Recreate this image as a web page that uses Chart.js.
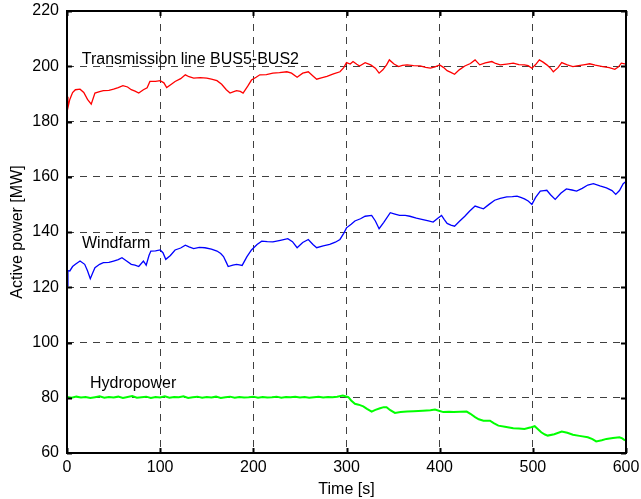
<!DOCTYPE html>
<html>
<head>
<meta charset="utf-8">
<title>Active power</title>
<script src="https://cdn.jsdelivr.net/npm/chart.js@4/dist/chart.umd.min.js"></script>
<style>
    html, body { margin: 0; padding: 0; background: #fff; }
</style>
</head>
<body>
<canvas id="powerChart" width="641" height="499"></canvas>
<script>
// Axis ticks
const timeTicks = [0, 100, 200, 300, 400, 500, 600];
const powerTicks = [60, 80, 100, 120, 140, 160, 180, 200, 220];

// Transmission line BUS5-BUS2 (red)
const lineTime = [0, 1, 3, 6, 9, 14, 18, 22, 26, 30, 35, 39, 45, 50, 55, 60, 65, 69, 73, 77,
    82, 86, 89, 95, 100, 104, 107, 112, 116, 122, 127, 131, 136, 143, 150, 155, 161, 166, 171, 175,
    179, 182, 186, 189, 194, 198, 203, 207, 214, 221, 228, 236, 241, 247, 253, 259, 264, 268, 273, 279,
    286, 293, 297, 300, 304, 307, 311, 314, 320, 326, 331, 335, 339, 343, 346, 351, 356, 360, 365, 372,
    379, 385, 390, 395, 400, 404, 408, 412, 416, 421, 427, 433, 438, 443, 449, 456, 460, 465, 472, 479,
    485, 491, 495, 499, 503, 507, 511, 515, 519, 522, 527, 531, 537, 543, 549, 556, 561, 567, 575, 582,
    588, 592, 595, 600];
const linePower = [189, 185, 188, 190.5, 191.5, 191.7, 190.5, 188, 186.3, 190.3, 190.8, 191.2, 191.3, 191.7, 192.3, 193, 192.5, 191.5, 191, 190.3,
    191.5, 192.2, 194.5, 194.5, 194.8, 194, 192.3, 193.5, 194.5, 195.5, 196.9, 196.2, 195.7, 195.9, 195.7, 195.3, 194.8, 193.5, 191.5, 190.3,
    190.8, 191.2, 190.9, 190.3, 192.8, 195, 196, 196.9, 197, 197.5, 197.7, 198, 197.5, 196, 197.5, 198, 196.5, 195.3, 195.8, 196.3,
    197.2, 198, 199.5, 201.3, 200.8, 201.7, 200.7, 200.1, 201.3, 200.5, 199.3, 197.5, 198.7, 200.5, 202.3, 200.8, 199.9, 200.3, 200.5, 200.2,
    200.1, 199.6, 199.3, 199.8, 200.5, 199.6, 198.4, 197.8, 197.1, 198.7, 200.1, 201, 202.3, 200.5, 201.2, 201.7, 201, 200.5, 200.8, 201.1,
    200.6, 200.5, 200.2, 199.3, 200.6, 202.3, 201.5, 200.5, 199.3, 198, 199.5, 201.3, 200.5, 199.9, 200.2, 200.6, 200.9, 200.4, 199.9, 199.5,
    198.9, 199.8, 201.1, 200.8];

// Windfarm (blue)
const windTime = [0, 1, 3, 6, 9, 14, 19, 22, 25, 28, 30, 35, 39, 45, 50, 55, 59, 64, 69, 73,
    77, 82, 85, 88, 90, 95, 100, 103, 106, 111, 116, 122, 127, 131, 136, 142, 148, 155, 161, 165,
    168, 171, 173, 178, 182, 185, 188, 193, 198, 204, 209, 215, 221, 229, 237, 242, 247, 253, 259, 264,
    268, 275, 282, 288, 293, 297, 300, 305, 309, 315, 320, 327, 331, 335, 340, 347, 352, 357, 363, 368,
    375, 382, 388, 393, 398, 402, 405, 408, 412, 416, 421, 427, 432, 438, 443, 447, 453, 459, 465, 472,
    478, 483, 487, 491, 495, 499, 503, 508, 512, 515, 519, 524, 530, 536, 542, 547, 553, 559, 565, 572,
    579, 585, 589, 593, 597, 600];
const windPower = [120.5, 126, 125.9, 127.5, 128.3, 129.5, 128.3, 126, 123.1, 125.5, 127.1, 128.3, 128.9, 129, 129.5, 130, 130.7, 129.5, 128.3, 128,
    127.5, 129.5, 128, 131.5, 133.1, 133.2, 133.5, 132.5, 130.1, 131.5, 133.5, 134.2, 135.2, 134.6, 134, 134.4, 134.3, 133.8, 133.1, 132.2,
    131.1, 129, 127.5, 128, 128.3, 128.1, 127.9, 131, 133.5, 135.5, 136.7, 136.5, 136.4, 137, 137.6, 136.5, 134.3, 136.2, 137.3, 135.5,
    134.3, 135, 135.5, 136.3, 137.3, 139.5, 141.5, 142.8, 144, 144.8, 145.7, 146, 144, 141.2, 143.5, 147, 146.5, 146, 146, 145.7,
    145, 144.5, 144, 143.6, 145, 146, 144.5, 143.1, 142.5, 142.1, 143.8, 145.7, 147.5, 149.4, 148.8, 148.4, 150, 151.5, 152.2, 152.7,
    152.8, 153, 152.5, 152, 151.2, 150, 152.5, 154.8, 155, 155.1, 153.5, 151.8, 154, 155.6, 155.2, 154.8, 155.8, 157, 157.5, 156.7,
    156, 155, 153.6, 155, 157.5, 158.3];

// Hydropower (green)
const hydroTime = [0, 5, 10, 15, 20, 25, 30, 35, 40, 45, 50, 55, 60, 65, 70, 75, 80, 85, 90, 95,
    100, 105, 110, 115, 120, 125, 130, 135, 140, 145, 150, 155, 160, 165, 170, 175, 180, 185, 190, 195,
    200, 205, 210, 215, 220, 225, 230, 235, 240, 245, 250, 255, 260, 265, 270, 275, 280, 285, 290, 296,
    302, 305, 309, 313, 318, 322, 327, 331, 336, 340, 343, 347, 352, 358, 365, 372, 382, 390, 395, 400,
    404, 410, 415, 422, 429, 433, 438, 442, 447, 454, 458, 463, 470, 479, 485, 491, 497, 502, 505, 509,
    513, 516, 523, 531, 537, 543, 550, 559, 564, 568, 574, 579, 586, 593, 596, 599];
const hydroPower = [80.3, 80.0, 80.4, 80.1, 80.3, 79.9, 80.2, 80.5, 80.0, 80.3, 80.1, 80.4, 79.9, 80.3, 80.6, 80.0, 80.2, 80.4, 79.9, 80.3,
    80.1, 80.5, 80.0, 80.3, 80.2, 80.5, 79.9, 80.2, 80.4, 80.0, 80.3, 80.1, 80.4, 79.9, 80.2, 80.4, 80.0, 80.3, 80.1, 80.2,
    80.4, 80.0, 80.3, 80.1, 80.2, 80.4, 80.0, 80.3, 80.2, 80.4, 80.1, 80.3, 80.0, 80.2, 80.4, 80.1, 80.3, 80.2, 80.4, 80.8,
    80.2, 79, 77.8, 77.5, 76.9, 76, 75, 75.6, 76.2, 76.6, 76.6, 75.5, 74.5, 74.8, 75, 75.1, 75.3, 75.5, 75.7, 75.2,
    74.8, 74.9, 74.8, 74.9, 75, 74.2, 73, 72.2, 71.7, 71.7, 70.8, 69.9, 69.5, 69, 68.9, 68.7, 69.2, 69.7, 68.8, 67.5,
    66.7, 66.3, 66.8, 67.8, 67.3, 66.6, 66.2, 65.7, 65, 64.2, 64.6, 65.1, 65.4, 65.7, 65.3, 64.5];

// Curve labels, in data coordinates (time, power at text baseline)
const curveLabels = [
    { text: 'Transmission line BUS5-BUS2', t: 15.8, p: 200.8 },
    { text: 'Windfarm', t: 16.1, p: 134.2 },
    { text: 'Hydropower', t: 24.7, p: 83.5 }
];

const FONT = "'Liberation Sans', Arial, sans-serif";

function toPoints(xs, ys) {
    return xs.map((x, i) => ({ x: x, y: ys[i] }));
}

// Black box around the plot with inward tick marks, plus the curve labels
const framePlugin = {
    id: 'frame',
    afterDatasetsDraw(chart) {
        const ctx = chart.ctx;
        const { left, right, top, bottom } = chart.chartArea;
        const xs = chart.scales.x;
        const ys = chart.scales.y;

        // labels
        ctx.save();
        ctx.fillStyle = '#000';
        ctx.font = '16px ' + FONT;
        ctx.textAlign = 'left';
        ctx.textBaseline = 'alphabetic';
        curveLabels.forEach(l => {
            ctx.fillText(l.text, xs.getPixelForValue(l.t), ys.getPixelForValue(l.p));
        });
        ctx.restore();

        // frame
        ctx.save();
        ctx.strokeStyle = '#000';
        ctx.lineWidth = 2;
        ctx.strokeRect(left, top, right - left, bottom - top);

        // tick marks
        const tickLen = 5;
        ctx.beginPath();
        timeTicks.forEach(v => {
            const px = Math.round(xs.getPixelForValue(v)) + 0.5;
            ctx.moveTo(px, bottom); ctx.lineTo(px, bottom - tickLen);
            ctx.moveTo(px, top); ctx.lineTo(px, top + tickLen);
        });
        powerTicks.forEach(v => {
            const py = Math.round(ys.getPixelForValue(v)) + 0.5;
            ctx.moveTo(left, py); ctx.lineTo(left + tickLen, py);
            ctx.moveTo(right, py); ctx.lineTo(right - tickLen, py);
        });
        ctx.lineWidth = 2;
        ctx.stroke();
        ctx.restore();
    }
};

// Fixed axis sizes; drop the extra room Chart.js keeps for overflowing end labels
function fixX(s) {
    s.height = 46;
    s.paddingLeft = 0;
    s.paddingRight = 0;
}
function fixY(s) {
    s.width = 67;
    s.paddingTop = 0;
    s.paddingBottom = 0;
}

const gridOpts = {
    color: 'rgba(0, 0, 0, 0.75)',
    lineWidth: 1,
    drawTicks: false
};

const chart = new Chart(document.getElementById('powerChart'), {
    type: 'line',
    data: {
        datasets: [
            {
                label: 'Transmission line BUS5-BUS2',
                data: toPoints(lineTime, linePower),
                borderColor: '#ff0000',
                borderWidth: 1.3
            },
            {
                label: 'Windfarm',
                data: toPoints(windTime, windPower),
                borderColor: '#0000ff',
                borderWidth: 1.3
            },
            {
                label: 'Hydropower',
                data: toPoints(hydroTime, hydroPower),
                borderColor: '#00ff00',
                borderWidth: 2
            }
        ]
    },
    options: {
        responsive: false,
        animation: false,
        layout: { padding: { top: 11, right: 15, bottom: 0, left: 0 } },
        elements: {
            point: { radius: 0 },
            line: { tension: 0, fill: false }
        },
        plugins: {
            legend: { display: false },
            tooltip: { enabled: false }
        },
        scales: {
            x: {
                type: 'linear',
                min: 0,
                max: 600,
                afterFit: fixX,
                afterBuildTicks: s => { s.ticks = timeTicks.map(v => ({ value: v })); },
                ticks: { color: '#000', padding: 5, maxRotation: 0, font: { family: FONT, size: 16 } },
                grid: gridOpts,
                border: { display: false, dash: [7, 6] },
                title: {
                    display: true,
                    text: 'Time [s]',
                    color: '#000',
                    font: { family: FONT, size: 16 },
                    padding: { top: 0, bottom: 0 }
                }
            },
            y: {
                min: 60,
                max: 220,
                afterFit: fixY,
                afterBuildTicks: s => { s.ticks = powerTicks.map(v => ({ value: v })); },
                ticks: { color: '#000', padding: 8, font: { family: FONT, size: 16 } },
                grid: gridOpts,
                border: { display: false, dash: [7, 6] },
                title: {
                    display: true,
                    text: 'Active power [MW]',
                    color: '#000',
                    font: { family: FONT, size: 16 },
                    padding: { top: 8, bottom: 0 }
                }
            }
        }
    },
    plugins: [framePlugin]
});
</script>
</body>
</html>
